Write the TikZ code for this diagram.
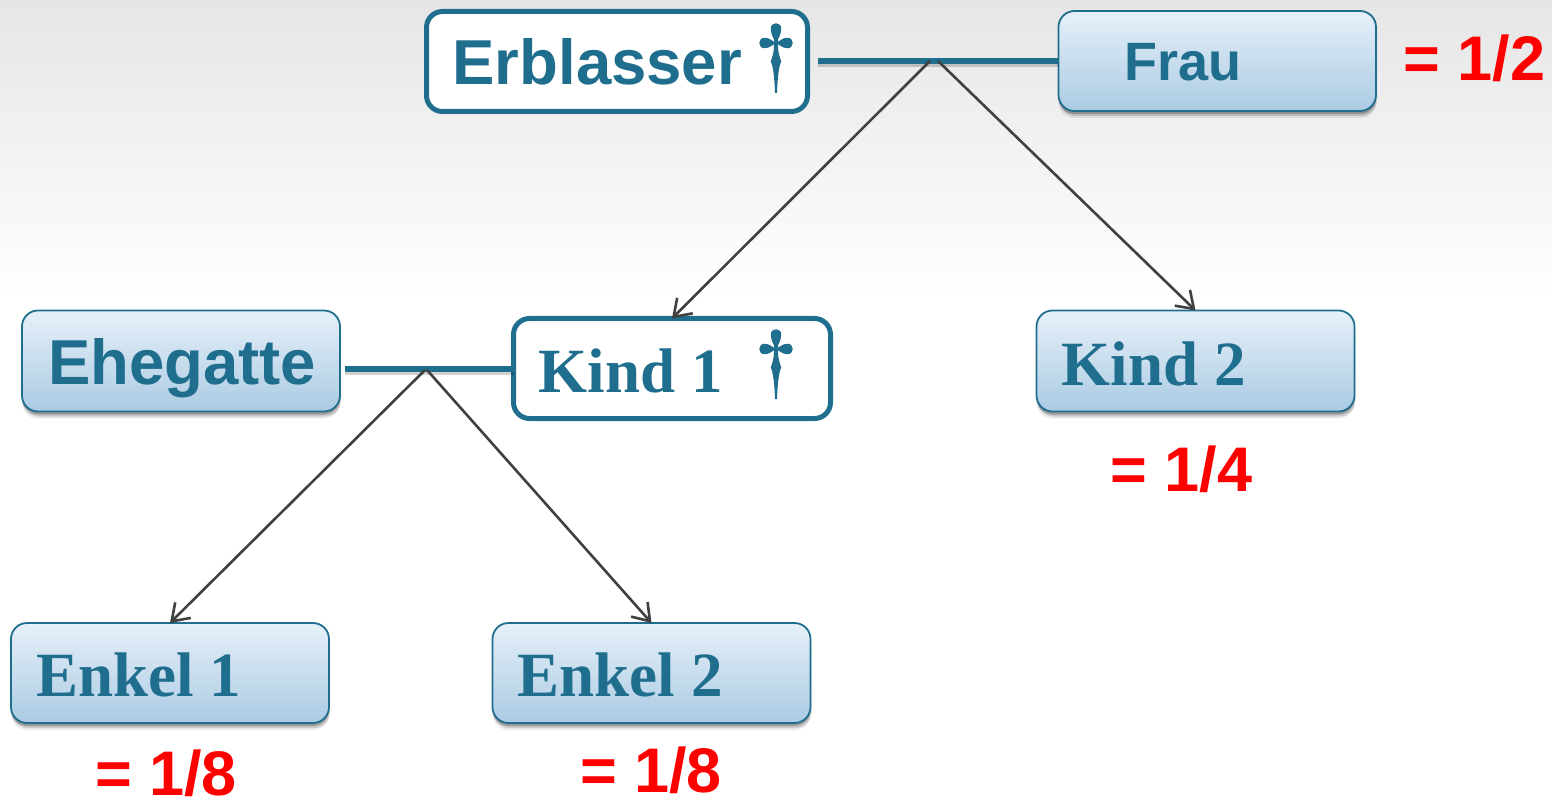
\documentclass[tikz,border=0pt]{standalone}
\usepackage{fontspec}
\setmainfont{Liberation Sans}
\newfontfamily\serifbold{Liberation Serif}[BoldFont={Liberation Serif Bold}]
\usetikzlibrary{shadows,arrows.meta}
\definecolor{teal}{HTML}{206E8E}
\definecolor{linkgrey}{HTML}{404040}
\definecolor{boxtop}{HTML}{E6F0F9}
\definecolor{boxbot}{HTML}{ABCBE3}
\tikzset{
  x=1pt,y=-1pt,
  anybox/.style={rounded corners=16pt,inner xsep=0pt,inner ysep=0pt,outer sep=0pt,align=left,text=teal,font=\bfseries,anchor=north west},
  bluebox/.style={anybox,draw=teal,line width=1.8pt,top color=boxtop,bottom color=boxbot,
    general shadow={shadow xshift=0pt,shadow yshift=-7pt,fill=black,opacity=.08},
    general shadow={shadow xshift=1pt,shadow yshift=-5pt,fill=black,opacity=.14},
    general shadow={shadow xshift=0pt,shadow yshift=-3pt,fill=black,opacity=.24}},
  whitebox/.style={anybox,draw=teal,line width=5pt,fill=white},
  tie/.style={draw=teal,line width=6pt,
    preaction={draw=black,draw opacity=.18,line width=7pt,transform canvas={yshift=-3pt}}},
  descent/.style={draw=linkgrey,line width=2.6pt,-{Straight Barb[length=16pt,width=22pt,line width=2.6pt]}},
  share/.style={text=red,font=\fontsize{63}{66}\selectfont\bfseries,anchor=base west,inner sep=0pt},
  pics/cross/.style={code={
    \fill[teal] (0,0) circle (2.5);
    \fill[teal] (0,0) .. controls (-2,-4) and (-5.2,-8) .. (-5.2,-14.5) .. controls (-5.2,-21.5) and (5.2,-21.5) .. (5.2,-14.5) .. controls (5.2,-8) and (2,-4) .. (0,0) -- cycle;
    \fill[teal] (0,0) .. controls (4,-2) and (6,-5.2) .. (11.5,-5.2) .. controls (18.5,-5.2) and (18.5,5.2) .. (11.5,5.2) .. controls (6,5.2) and (4,2) .. (0,0) -- cycle;
    \fill[teal] (0,0) .. controls (-4,-2) and (-6,-5.2) .. (-11.5,-5.2) .. controls (-18.5,-5.2) and (-18.5,5.2) .. (-11.5,5.2) .. controls (-6,5.2) and (-4,2) .. (0,0) -- cycle;
    \fill[teal] (-2,-3) -- (2,-3) -- (2,2) .. controls (2,7) and (2.5,11) .. (5.3,18.5)
      .. controls (3,22) and (1.5,35) .. (1,50) -- (-1,50)
      .. controls (-1.5,35) and (-3,22) .. (-5.3,18.5) .. controls (-2.5,11) and (-2,7) .. (-2,2) -- cycle;
  }},
}
\begin{document}
\begin{tikzpicture}
\useasboundingbox (0,0) rectangle (1552,799);
\shade[top color=black!10,bottom color=white] (0,0) rectangle (1552,300);

% people: text height = baseline - top, text depth = bottom - baseline
\node[whitebox,text width=381pt,text height=73.5pt,text depth=26.5pt] (erb) at (426.5,11.5)
  {\hspace*{26pt}\fontsize{63.5}{70}\selectfont Erblasser};
\node[bluebox,text width=317.5pt,text height=70pt,text depth=30pt] (frau) at (1058.5,11)
  {\hspace*{66pt}\fontsize{54}{60}\selectfont Frau};
\node[bluebox,text width=318pt,text height=74pt,text depth=27pt] (ehe) at (22,310.5)
  {\hspace*{26pt}\fontsize{63.5}{70}\selectfont Ehegatte};
\node[whitebox,text width=317pt,text height=74pt,text depth=26pt] (kind1) at (513.5,318.5)
  {\hspace*{25pt}\fontsize{63}{70}\serifbold\selectfont Kind\hspace{16pt}1};
\node[bluebox,text width=318pt,text height=75pt,text depth=26pt] (kind2) at (1036.5,310.5)
  {\hspace*{25pt}\fontsize{63}{70}\serifbold\selectfont Kind\hspace{16pt}2};
\node[bluebox,text width=318pt,text height=73pt,text depth=27pt] (enkel1) at (11,623)
  {\hspace*{25pt}\fontsize{63}{70}\serifbold\selectfont Enkel\hspace{16pt}1};
\node[bluebox,text width=318pt,text height=73pt,text depth=27pt] (enkel2) at (492.5,623)
  {\hspace*{25pt}\fontsize{63}{70}\serifbold\selectfont Enkel\hspace{16pt}2};

\pic at (776,43) {cross};
\pic at (776,349) {cross};

% marriages
\coordinate (tieA) at (818,61);
\coordinate (tieB) at (345,368.5);
\coordinate (j1a) at (930,61);
\coordinate (j1b) at (938,61);
\coordinate (j2a) at (425,370);
\coordinate (j2b) at (427,370);
\path[tie] (tieA) -- (frau.west |- tieA);
\path[tie] (tieB) -- (kind1.west |- tieB);

% descent
\draw[descent] (j1a) -- (kind1.north);
\draw[descent] (j1b) -- (kind2.north);
\draw[descent] (j2a) -- (enkel1.north);
\draw[descent] (j2b) -- (enkel2.north);

% shares
\node[share] (s1) at (1403,81) {= 1/2};
\node[share] (s2) at (1110,491) {= 1/4};
\node[share] (s3) at (95,795) {= 1/8};
\node[share] (s4) at (580,792) {= 1/8};
\end{tikzpicture}
\end{document}
